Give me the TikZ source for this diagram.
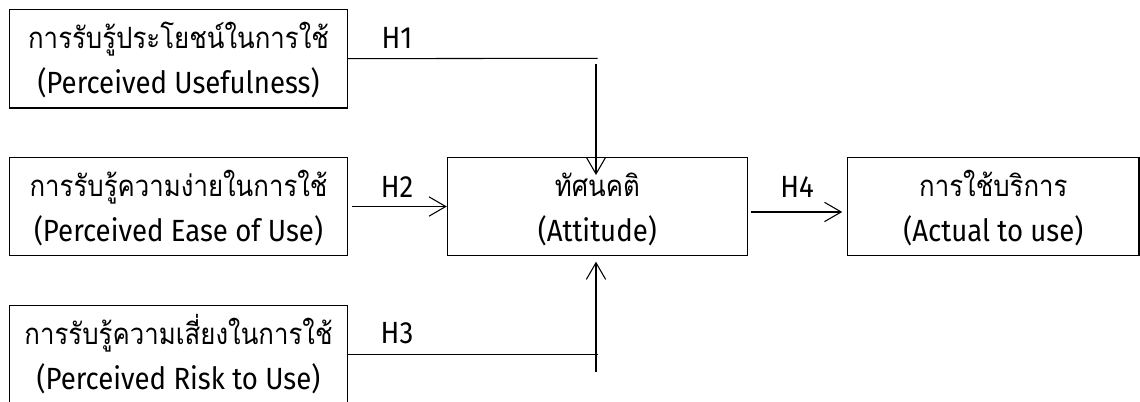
\documentclass[tikz,border=0pt]{standalone}
\usepackage{fontspec}
\setmainfont[Script=Thai,FakeStretch=0.88]{Loma}
\newfontfamily\latinfont[FakeStretch=0.9]{Fira Sans}
\usetikzlibrary{arrows.meta}
\begin{document}
\begin{tikzpicture}[x=0.75pt,y=-0.75pt,
  box/.style={draw,line width=0.8pt,rectangle,inner sep=0pt},
  lbl/.style={anchor=base,inner sep=0pt,font=\fontsize{22}{26}\selectfont},
  lat/.style={anchor=base,inner sep=0pt,font=\latinfont\fontsize{23}{27}\selectfont},
  conn/.style={line width=0.8pt},
  arr/.style={line width=0.8pt,-{Straight Barb[length=12.5pt,width=14.5pt,line width=0.8pt]}}]
\clip (0,0) rectangle (1140,401);
\fill[white] (0,0) rectangle (1140,401);
% boxes
\node[box,minimum width=338.4*0.75pt,minimum height=98.7*0.75pt] (pu) at (178.5,58.65) {};
\node[box,minimum width=338.4*0.75pt,minimum height=98.4*0.75pt] (peou) at (178.5,206.5) {};
\node[box,minimum width=338.4*0.75pt,minimum height=98.4*0.75pt] (pr) at (178.5,354.5) {};
\node[box,minimum width=300*0.75pt,minimum height=98.4*0.75pt] (att) at (597.3,206.5) {};
\node[box,minimum width=291.3*0.75pt,minimum height=98.4*0.75pt] (act) at (993.35,206.5) {};
% texts
\node[lbl] (pu1) at (178.5,48) {การรับรู้ประโยชน์ในการใช้};
\node[lat] (pu2) at (178.5,93) {(Perceived Usefulness)};
\node[lbl] (peou1) at (178.5,196) {การรับรู้ความง่ายในการใช้};
\node[lat] (peou2) at (178.5,241) {(Perceived Ease of Use)};
\node[lbl] (pr1) at (178.5,344) {การรับรู้ความเสี่ยงในการใช้};
\node[lat] (pr2) at (178.5,389) {(Perceived Risk to Use)};
\node[lbl] (att1) at (597.3,196) {ทัศนคติ};
\node[lat] (att2) at (597.3,241) {(Attitude)};
\node[lbl] (act1) at (993.35,196) {การใช้บริการ};
\node[lat] (act2) at (993.35,241) {(Actual to use)};
\node[lat] (h1) at (397,48) {H1};
\node[lat] (h2) at (397,197) {H2};
\node[lat] (h3) at (397,343) {H3};
\node[lat] (h4) at (797,197) {H4};
% connectors
\coordinate (h1end) at (597.7,58.3);
\coordinate (h1top) at (596,64);
\coordinate (h1tip) at (596,175);
\coordinate (h3end) at (597.7,354.3);
\coordinate (h3bot) at (596,372);
\coordinate (h3tip) at (596,261.7);
\draw[conn] (pu.east) -- (h1end);
\draw[arr] (h1top) -- (h1tip);
\draw[arr,shorten <=3pt] (peou.east) -- (att.west);
\draw[arr,shorten <=2pt,shorten >=3.7pt] ([yshift=-4.1pt]att.east) -- ([yshift=-4.1pt]act.west);
\draw[conn] (pr.east |- h3end) -- (h3end);
\draw[arr] (h3bot) -- (h3tip);
\end{tikzpicture}
\end{document}
